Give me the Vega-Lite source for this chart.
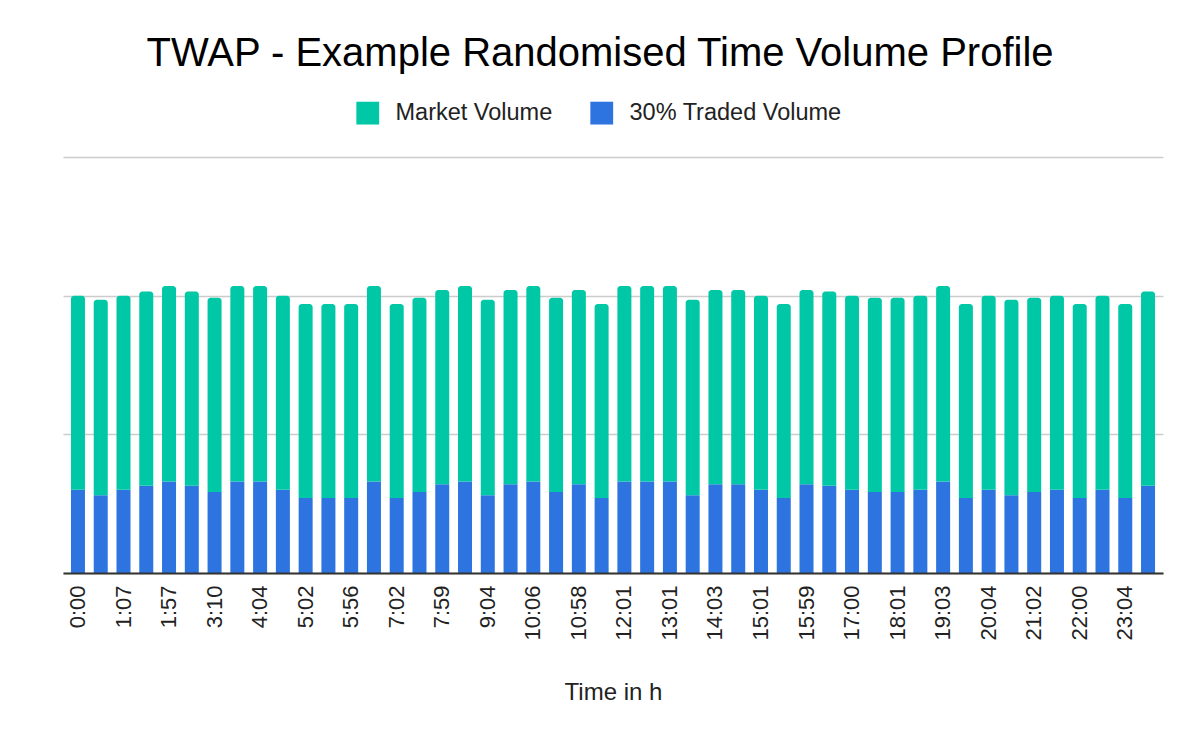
{
  "$schema": "https://vega.github.io/schema/vega-lite/v6.json",
  "autosize": {"type": "none"},
  "padding": {"left": 63, "top": 157, "right": 37, "bottom": 169},
  "width": 1100,
  "height": 416,
  "title": {
    "text": "TWAP - Example Randomised Time Volume Profile",
    "font": "Liberation Sans",
    "fontSize": 40,
    "fontWeight": "normal",
    "color": "#000000",
    "anchor": "middle",
    "dx": -13,
    "offset": 27
  },
  "config": {
    "view": {"stroke": null},
    "font": "Liberation Sans"
  },
  "data": {
    "values": [
      {"t": "0:00", "market": 140, "traded": 60},
      {"t": "0:33", "market": 141, "traded": 56},
      {"t": "1:07", "market": 140, "traded": 60},
      {"t": "1:32", "market": 140, "traded": 63},
      {"t": "1:57", "market": 141, "traded": 66},
      {"t": "2:33", "market": 140, "traded": 63},
      {"t": "3:10", "market": 140, "traded": 58.5},
      {"t": "3:37", "market": 141, "traded": 66},
      {"t": "4:04", "market": 141, "traded": 66},
      {"t": "4:33", "market": 140, "traded": 60},
      {"t": "5:02", "market": 140, "traded": 54},
      {"t": "5:29", "market": 140, "traded": 54},
      {"t": "5:56", "market": 140, "traded": 54},
      {"t": "6:29", "market": 141, "traded": 66},
      {"t": "7:02", "market": 140, "traded": 54},
      {"t": "7:30", "market": 140, "traded": 58.5},
      {"t": "7:59", "market": 140, "traded": 64},
      {"t": "8:31", "market": 141, "traded": 66},
      {"t": "9:04", "market": 141, "traded": 56},
      {"t": "9:35", "market": 140, "traded": 64},
      {"t": "10:06", "market": 141, "traded": 66},
      {"t": "10:32", "market": 140, "traded": 58.5},
      {"t": "10:58", "market": 140, "traded": 64},
      {"t": "11:29", "market": 140, "traded": 54},
      {"t": "12:01", "market": 141, "traded": 66},
      {"t": "12:31", "market": 141, "traded": 66},
      {"t": "13:01", "market": 141, "traded": 66},
      {"t": "13:32", "market": 141, "traded": 56},
      {"t": "14:03", "market": 140, "traded": 64},
      {"t": "14:32", "market": 140, "traded": 64},
      {"t": "15:01", "market": 140, "traded": 60},
      {"t": "15:30", "market": 140, "traded": 54},
      {"t": "15:59", "market": 140, "traded": 64},
      {"t": "16:29", "market": 140, "traded": 63},
      {"t": "17:00", "market": 140, "traded": 60},
      {"t": "17:30", "market": 140, "traded": 58.5},
      {"t": "18:01", "market": 140, "traded": 58.5},
      {"t": "18:32", "market": 140, "traded": 60},
      {"t": "19:03", "market": 141, "traded": 66},
      {"t": "19:33", "market": 140, "traded": 54},
      {"t": "20:04", "market": 140, "traded": 60},
      {"t": "20:33", "market": 141, "traded": 56},
      {"t": "21:02", "market": 140, "traded": 58.5},
      {"t": "21:31", "market": 140, "traded": 60},
      {"t": "22:00", "market": 140, "traded": 54},
      {"t": "22:32", "market": 140, "traded": 60},
      {"t": "23:04", "market": 140, "traded": 54},
      {"t": "23:35", "market": 140, "traded": 63}
    ]
  },
  "transform": [
    {"fold": ["market", "traded"], "as": ["series", "volume"]},
    {
      "stack": "volume",
      "groupby": ["t"],
      "sort": [{"field": "series", "order": "descending"}],
      "as": ["v0", "v1"]
    }
  ],
  "encoding": {
    "x": {
      "field": "t",
      "type": "ordinal",
      "sort": null,
      "scale": {"paddingInner": 0.385, "paddingOuter": 0.35},
      "axis": {
        "title": "Time in h",
        "titleFont": "Liberation Sans",
        "titleFontSize": 24,
        "titleFontWeight": "normal",
        "titleColor": "#222222",
        "titlePadding": 40,
        "values": ["0:00", "1:07", "1:57", "3:10", "4:04", "5:02", "5:56", "7:02", "7:59", "9:04", "10:06", "10:58", "12:01", "13:01", "14:03", "15:01", "15:59", "17:00", "18:01", "19:03", "20:04", "21:02", "22:00", "23:04"],
        "labelAngle": -90,
        "labelFont": "Liberation Sans",
        "labelFontSize": 22,
        "labelColor": "#222222",
        "labelPadding": 12,
        "ticks": false,
        "domainColor": "#333333",
        "domainWidth": 2,
        "zindex": 1
      }
    },
    "y": {
      "field": "v1",
      "type": "quantitative",
      "scale": {"domain": [0, 300], "nice": false},
      "axis": {
        "title": null,
        "labels": false,
        "ticks": false,
        "domain": false,
        "values": [0, 100, 200, 300],
        "gridColor": "#cccccc",
        "gridWidth": 1.5
      }
    },
    "y2": {"field": "v0"},
    "color": {
      "field": "series",
      "type": "nominal",
      "scale": {"domain": ["market", "traded"], "range": ["#00c8a6", "#2d74e0"]},
      "legend": {
        "title": null,
        "orient": "none",
        "direction": "horizontal",
        "legendX": 293,
        "legendY": -56,
        "symbolType": "square",
        "symbolSize": 520,
        "symbolStrokeWidth": 0,
        "symbolOpacity": 1,
        "labelFont": "Liberation Sans",
        "labelFontSize": 23.5,
        "labelColor": "#222222",
        "labelOffset": 16,
        "labelLimit": 0,
        "columnPadding": 37,
        "labelExpr": "datum.label == 'market' ? 'Market Volume' : '30% Traded Volume'"
      }
    }
  },
  "layer": [
    {
      "transform": [{"filter": "datum.series == 'traded'"}],
      "mark": {"type": "bar"}
    },
    {
      "transform": [{"filter": "datum.series == 'market'"}],
      "mark": {"type": "bar", "cornerRadiusTopLeft": 3, "cornerRadiusTopRight": 3}
    }
  ]
}
